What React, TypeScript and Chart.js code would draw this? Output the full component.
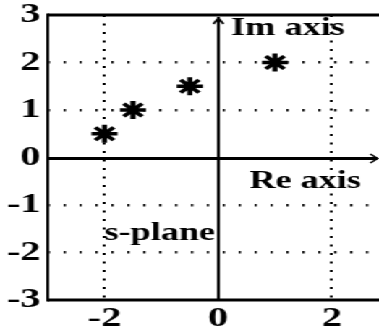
import { useEffect, useRef } from 'react';
import { Chart, registerables } from 'chart.js';
Chart.register(...registerables);

// pole locations (real, imaginary)
const realParts = [-2, -1.5, -0.5, 1];
const imagParts = [0.5, 1, 1.5, 2];
const xTickValues = [-2, 0, 2];
const yTickValues = [-3, -2, -1, 0, 1, 2, 3];
const xMin = -3;
const xMax = 2.83;
const yMin = -3;
const yMax = 3;
const labelTexts = ['Im axis', 'Re axis', 's-plane'];
const labelX = [0.23, 0.55, -2.0];
const labelY = [2.58, -0.64, -1.74];

const W = 262;
const H = 335;
const STRETCH = 379 / W;
const FONT = '"Liberation Serif", "Times New Roman", serif';

const framePlugin = {
  id: 'frame',
  afterDraw(chart: any) {
    const { ctx, chartArea: a, scales } = chart;
    const xs = scales.x;
    const ys = scales.y;
    const x0 = Math.round(xs.getPixelForValue(0));
    const y0 = Math.round(ys.getPixelForValue(0));
    ctx.save();
    ctx.strokeStyle = '#000';
    ctx.lineCap = 'butt';
    ctx.lineWidth = 3;
    ctx.beginPath();
    ctx.moveTo(a.left, a.top);
    ctx.lineTo(a.right, a.top);
    ctx.moveTo(a.left, a.bottom);
    ctx.lineTo(a.right, a.bottom);
    ctx.stroke();
    ctx.lineWidth = 2;
    ctx.beginPath();
    ctx.moveTo(a.left, a.top - 1.5);
    ctx.lineTo(a.left, a.bottom + 1.5);
    ctx.stroke();
    ctx.lineWidth = 3;
    ctx.beginPath();
    ctx.moveTo(a.left, y0 + 0.5);
    ctx.lineTo(a.right - 1, y0 + 0.5);
    ctx.stroke();
    ctx.lineWidth = 1.5;
    ctx.beginPath();
    ctx.moveTo(a.right - 6, y0 - 4);
    ctx.lineTo(a.right - 1, y0 + 0.5);
    ctx.lineTo(a.right - 6, y0 + 5);
    ctx.stroke();
    ctx.lineWidth = 2;
    ctx.beginPath();
    ctx.moveTo(x0, a.bottom);
    ctx.lineTo(x0, a.top + 2);
    ctx.stroke();
    ctx.lineWidth = 1.5;
    ctx.beginPath();
    ctx.moveTo(x0 - 3.5, a.top + 9);
    ctx.lineTo(x0, a.top + 3);
    ctx.lineTo(x0 + 3.5, a.top + 9);
    ctx.stroke();
    ctx.fillStyle = '#000';
    ctx.font = 'bold 25px ' + FONT;
    ctx.textAlign = 'left';
    ctx.textBaseline = 'alphabetic';
    labelTexts.forEach((t, i) => {
      ctx.fillText(t, xs.getPixelForValue(labelX[i]), ys.getPixelForValue(labelY[i]));
    });
    ctx.restore();
  },
};

export default function App() {
  const ref = useRef<HTMLCanvasElement>(null);
  useEffect(() => {
    if (!ref.current) return;
    const chart = new Chart(ref.current, {
      type: 'scatter',
      data: {
        datasets: [
          {
            data: realParts.map((x, i) => ({ x, y: imagParts[i] })),
            pointStyle: 'star',
            radius: 9,
            borderWidth: 3.5,
            borderColor: '#000',
            backgroundColor: '#000',
          },
        ],
      },
      options: {
        responsive: false,
        animation: false,
        layout: { autoPadding: false, padding: { top: 15, right: 0, left: 0, bottom: 0 } },
        plugins: { legend: { display: false }, tooltip: { enabled: false } },
        scales: {
          x: {
            type: 'linear',
            min: xMin,
            max: xMax,
            afterBuildTicks: (s: any) => {
              s.ticks = xTickValues.map((v) => ({ value: v }));
            },
            afterFit: (s: any) => {
              s.height = 35;
              s.paddingLeft = 0;
              s.paddingRight = 0;
            },
            ticks: {
              color: '#000',
              padding: 2,
              font: { family: FONT, size: 28, weight: 'bold' },
              maxRotation: 0,
              autoSkip: false,
            },
            grid: {
              drawTicks: false,
              lineWidth: 2,
              color: (c: any) => (c.tick && c.tick.value === 0 ? 'rgba(0,0,0,0)' : '#000'),
            },
            border: { display: false, dash: [2, 6.5] },
          },
          y: {
            type: 'linear',
            min: yMin,
            max: yMax,
            afterBuildTicks: (s: any) => {
              s.ticks = yTickValues.map((v) => ({ value: v }));
            },
            afterFit: (s: any) => {
              s.width = 33;
              s.paddingTop = 0;
              s.paddingBottom = 0;
            },
            ticks: {
              color: '#000',
              padding: 5,
              font: { family: FONT, size: 28, weight: 'bold' },
              autoSkip: false,
            },
            grid: {
              drawTicks: false,
              lineWidth: 2.5,
              color: (c: any) =>
                c.tick && (c.tick.value === 0 || c.tick.value === 3 || c.tick.value === -3)
                  ? 'rgba(0,0,0,0)'
                  : '#000',
            },
            border: { display: false, dash: [1.5, 9.5] },
          },
        },
      },
      plugins: [framePlugin],
    });
    return () => chart.destroy();
  }, []);
  return (
    <div
      style={{
        position: 'fixed',
        left: 0,
        top: 0,
        width: W,
        height: H,
        background: '#fff',
        transform: `scaleX(${STRETCH})`,
        transformOrigin: '0 0',
      }}
    >
      <canvas ref={ref} width={W} height={H} />
    </div>
  );
}
